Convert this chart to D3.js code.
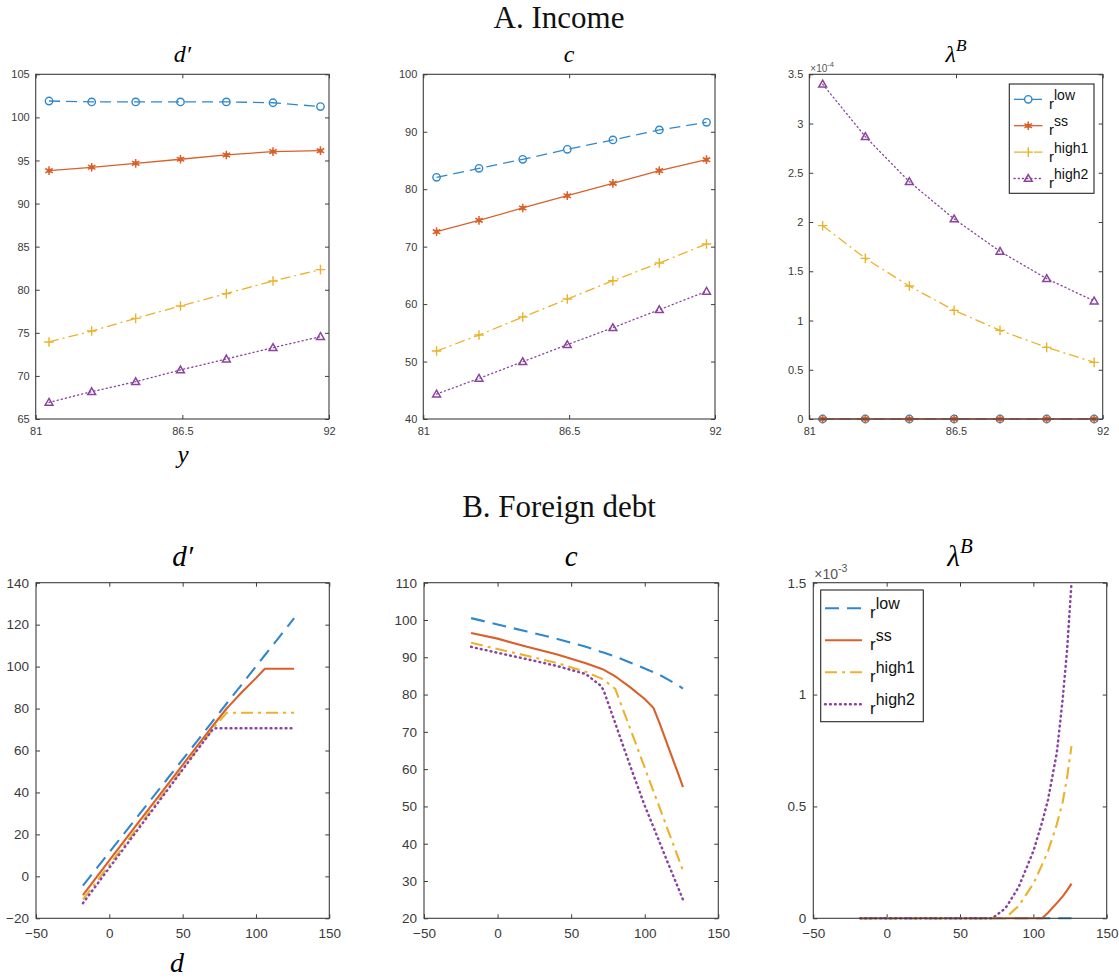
<!DOCTYPE html>
<html>
<head>
<meta charset="utf-8">
<script src="https://cdn.jsdelivr.net/npm/d3@7"></script>
<style>
  body { margin: 0; background: #fff; }
  svg { display: block; }
</style>
</head>
<body>
<svg id="fig" width="1119" height="980"></svg>
<script>
// ---------- Panel A: policy functions over the income grid ----------
const incomeGrid     = [81.5, 83.1, 84.75, 86.43, 88.15, 89.9, 91.68];
const incomeTicks    = [81, 86.5, 92];

const incDebtLow     = [101.9, 101.8, 101.8, 101.8, 101.8, 101.7, 101.25];
const incDebtSS      = [93.82, 94.21, 94.67, 95.14, 95.64, 96.03, 96.14];
const incDebtHigh1   = [73.94, 75.21, 76.68, 78.11, 79.55, 81.02, 82.33];
const incDebtHigh2   = [66.93, 68.17, 69.33, 70.69, 71.96, 73.28, 74.56];

const incConsLow     = [82.07, 83.63, 85.2, 86.94, 88.57, 90.31, 91.64];
const incConsSS      = [72.61, 74.58, 76.73, 78.87, 81.02, 83.23, 85.14];
const incConsHigh1   = [51.83, 54.61, 57.75, 60.88, 64.07, 67.15, 70.46];
const incConsHigh2   = [44.34, 47.07, 49.97, 52.93, 55.89, 59.02, 62.22];

const incLambdaLow   = [0, 0, 0, 0, 0, 0, 0];
const incLambdaSS    = [0, 0, 0, 0, 0, 0, 0];
const incLambdaHigh1 = [1.963e-4, 1.631e-4, 1.35e-4, 1.103e-4, 0.90e-4, 0.727e-4, 0.575e-4];
const incLambdaHigh2 = [3.40e-4, 2.867e-4, 2.41e-4, 2.031e-4, 1.702e-4, 1.425e-4, 1.198e-4];

const incDebtTicks   = [65, 70, 75, 80, 85, 90, 95, 100, 105];
const incConsTicks   = [40, 50, 60, 70, 80, 90, 100];
const incLambdaTicks = [0, 0.5e-4, 1e-4, 1.5e-4, 2e-4, 2.5e-4, 3e-4, 3.5e-4];

// ---------- Panel B: policy functions over the foreign-debt grid ----------
const debtGrid        = [-18, 0, 20, 40, 60, 70, 72, 80, 82, 90, 100, 106, 110, 116, 120, 123, 126];
const debtTicks       = [-50, 0, 50, 100, 150];

const debtNextLow     = [-4.4, 11.5, 29.2, 46.9, 64.6, 73.5, 75.3, 82.4, 84.2, 91.2, 100.1, 105.4, 108.9, 114.2, 117.8, 120.4, 123.1];
const debtNextSS      = [-8.9, 7.6, 25.8, 44.0, 62.2, 71.2, 73.0, 80.0, 81.5, 87.5, 94.5, 99.0, 99.0, 99.0, 99.0, 99.0, 99.0];
const debtNextHigh1   = [-11.0, 5.5, 23.9, 42.2, 60.6, 69.8, 71.6, 78.0, 78.0, 78.0, 78.0, 78.0, 78.0, 78.0, 78.0, 78.0, 78.0];
const debtNextHigh2   = [-12.8, 4.1, 22.8, 41.5, 60.3, 69.6, 70.6, 70.6, 70.6, 70.6, 70.6, 70.6, 70.6, 70.6, 70.6, 70.6, 70.6];

const debtConsLow     = [100.5, 98.8, 96.9, 95.0, 92.8, 91.5, 91.3, 90.2, 89.9, 88.6, 87.0, 86.0, 85.3, 84.0, 83.1, 82.4, 81.6];
const debtConsSS      = [96.5, 95.0, 92.8, 90.8, 88.4, 87.0, 86.7, 84.9, 84.3, 82.0, 78.8, 76.4, 72.4, 66.0, 61.7, 58.5, 55.2];
const debtConsHigh1   = [93.9, 92.2, 90.4, 88.5, 86.1, 84.4, 84.0, 81.5, 79.4, 71.0, 60.4, 54.0, 49.8, 43.4, 39.2, 36.0, 32.8];
const debtConsHigh2   = [92.8, 91.2, 89.5, 87.7, 85.5, 82.4, 81.2, 72.3, 70.0, 61.0, 50.2, 44.4, 40.5, 34.6, 30.8, 27.9, 25.0];

const debtLambdaLow   = [0, 0, 0, 0, 0, 0, 0, 0, 0, 0, 0, 0, 0, 0, 0, 0, 0];
const debtLambdaSS    = [0, 0, 0, 0, 0, 0, 0, 0, 0, 0, 0, 0, 0.025e-3, 0.068e-3, 0.098e-3, 0.125e-3, 0.155e-3];
const debtLambdaHigh1 = [0, 0, 0, 0, 0, 0, 0, 0, 0.008e-3, 0.055e-3, 0.155e-3, 0.24e-3, 0.30e-3, 0.42e-3, 0.52e-3, 0.63e-3, 0.77e-3];
const debtLambdaHigh2 = [0, 0, 0, 0, 0, 0, 0, 0.04e-3, 0.055e-3, 0.14e-3, 0.30e-3, 0.43e-3, 0.53e-3, 0.74e-3, 0.98e-3, 1.2e-3, 1.5e-3];

const debtNextTicks   = [-20, 0, 20, 40, 60, 80, 100, 120, 140];
const debtConsTicks   = [20, 30, 40, 50, 60, 70, 80, 90, 100, 110];
const debtLambdaTicks = [0, 0.5e-3, 1e-3, 1.5e-3];

// Interest-rate regimes (legend order)
const regimeKeys   = ["low", "ss", "high1", "high2"];

// ---------- styling ----------
const styles = {
  low:   { color: "#2f88cc", dashA: "11,6",     dashB: "14,8",        marker: "circle"   },
  ss:    { color: "#d9602a", dashA: null,       dashB: null,          marker: "asterisk" },
  high1: { color: "#ebb22c", dashA: "10,4,2,4", dashB: "12,5,3,5",    marker: "plus"     },
  high2: { color: "#8a44a0", dashA: "1.2,3",    dashB: "0.8,4.2",     marker: "triangle" }
};
const AXIS_COLOR = "#3d3d3d";
const TEXT_COLOR = "#3a3a3a";
const SANS  = "'Liberation Sans', Arial, Helvetica, sans-serif";
const SERIF = "'Liberation Serif', 'Times New Roman', serif";
const TICK_LEN = 4;

const svg = d3.select("#fig");

function markerPath(kind, size) {
  const t = { circle: d3.symbolCircle, asterisk: d3.symbolAsterisk,
              plus: d3.symbolPlus, triangle: d3.symbolTriangle2 }[kind];
  return d3.symbol().type(t).size(size)();
}

function drawMarker(g, kind, color, cx, cy) {
  if (kind === "circle") {
    g.append("circle").attr("cx", cx).attr("cy", cy).attr("r", 3.7)
      .attr("fill", "none").attr("stroke", color).attr("stroke-width", 1.4);
  } else if (kind === "asterisk") {
    g.append("circle").attr("cx", cx).attr("cy", cy).attr("r", 2.2).attr("fill", color);
    g.append("path").attr("d", markerPath("asterisk", 52))
      .attr("transform", `translate(${cx},${cy})`)
      .attr("fill", "none").attr("stroke", color).attr("stroke-width", 1.5);
  } else if (kind === "plus") {
    g.append("path").attr("d", markerPath("plus", 32))
      .attr("transform", `translate(${cx},${cy})`)
      .attr("fill", "none").attr("stroke", color).attr("stroke-width", 1.4);
  } else {
    g.append("path").attr("d", markerPath("triangle", 44))
      .attr("transform", `translate(${cx},${cy + 0.6})`)
      .attr("fill", "none").attr("stroke", color).attr("stroke-width", 1.5)
      .attr("stroke-linejoin", "miter");
  }
}

function styleAxis(sel, fontSize) {
  sel.select(".domain").remove();
  sel.selectAll(".tick line").attr("stroke", AXIS_COLOR).attr("stroke-width", 1);
  sel.selectAll(".tick text").attr("fill", TEXT_COLOR)
    .attr("font-family", SANS).attr("font-size", fontSize);
}

function drawPanel(p) {
  const x = d3.scaleLinear().domain(p.xDomain).range([p.left, p.right]);
  const y = d3.scaleLinear().domain(p.yDomain).range([p.bottom, p.top]);
  const g = svg.append("g");

  g.append("g").attr("transform", `translate(0,${p.bottom})`)
    .call(d3.axisBottom(x).tickValues(p.xTicks).tickFormat(p.xFmt)
      .tickSize(-TICK_LEN).tickPadding(p.xPad))
    .call(s => styleAxis(s, p.tickFont));
  g.append("g").attr("transform", `translate(0,${p.top})`)
    .call(d3.axisTop(x).tickValues(p.xTicks).tickFormat("").tickSize(-TICK_LEN))
    .call(s => styleAxis(s, p.tickFont));
  g.append("g").attr("transform", `translate(${p.left},0)`)
    .call(d3.axisLeft(y).tickValues(p.yTicks).tickFormat(p.yFmt)
      .tickSize(-TICK_LEN).tickPadding(p.yPad))
    .call(s => styleAxis(s, p.tickFont));
  g.append("g").attr("transform", `translate(${p.right},0)`)
    .call(d3.axisRight(y).tickValues(p.yTicks).tickFormat("").tickSize(-TICK_LEN))
    .call(s => styleAxis(s, p.tickFont));

  const line = d3.line().x(d => x(d[0])).y(d => y(d[1]));
  p.series.forEach((vals, i) => {
    const key = regimeKeys[i];
    const st = styles[key];
    const pts = p.grid.map((gx, j) => [gx, vals[j]]);
    const dotted = key === "high2";
    g.append("path").attr("d", line(pts))
      .attr("fill", "none").attr("stroke", st.color)
      .attr("stroke-width", dotted && !p.markers ? p.lineWidth + 0.4 : p.lineWidth)
      .attr("stroke-dasharray", p.dashKey ? st[p.dashKey] : null)
      .attr("stroke-linecap", dotted ? "round" : "butt");
    if (p.markers) {
      const mg = g.append("g");
      pts.forEach(d => drawMarker(mg, st.marker, st.color, x(d[0]), y(d[1])));
    }
  });

  g.append("rect")
    .attr("x", p.left).attr("y", p.top)
    .attr("width", p.right - p.left).attr("height", p.bottom - p.top)
    .attr("fill", "none").attr("stroke", AXIS_COLOR).attr("stroke-width", 1.1);

  // panel title (italic math symbol, optional superscript)
  const cx = (p.left + p.right) / 2;
  const t = svg.append("text").attr("x", cx).attr("y", p.titleY)
    .attr("text-anchor", "middle").attr("font-family", SERIF)
    .attr("font-style", "italic").attr("font-size", p.titleSize)
    .attr("fill", "#000");
  t.append("tspan").text(p.title);
  if (p.titleSup) {
    t.append("tspan").attr("dy", -p.titleSize * 0.42)
      .attr("font-size", p.titleSize * 0.72).text(p.titleSup);
  }

  // axis multiplier shown above the y axis
  if (p.expo) {
    const e = svg.append("text").attr("x", p.left + 1).attr("y", p.expoY)
      .attr("font-family", SANS).attr("font-size", p.expoSize).attr("fill", "#555");
    e.append("tspan").text("×10");
    e.append("tspan").attr("dy", -p.expoSize * 0.5)
      .attr("font-size", p.expoSize * 0.75).text(p.expo);
  }
  return { x, y };
}

function drawLegend(lg) {
  const g = svg.append("g");
  g.append("rect").attr("x", lg.x).attr("y", lg.y).attr("width", lg.w).attr("height", lg.h)
    .attr("fill", "#fff").attr("stroke", "#262626").attr("stroke-width", 1.1);
  const labels = { low: "low", ss: "ss", high1: "high1", high2: "high2" };
  regimeKeys.forEach((k, i) => {
    const st = styles[k];
    const yy = lg.y0 + i * lg.dy;
    const dotted = k === "high2";
    g.append("line").attr("x1", lg.lx1).attr("x2", lg.lx2).attr("y1", yy).attr("y2", yy)
      .attr("stroke", st.color)
      .attr("stroke-width", dotted && !lg.markers ? lg.lineWidth + 0.4 : lg.lineWidth)
      .attr("stroke-dasharray", st[lg.dashKey])
      .attr("stroke-linecap", dotted ? "round" : "butt");
    if (lg.markers) drawMarker(g, st.marker, st.color, (lg.lx1 + lg.lx2) / 2, yy);
    const t = g.append("text").attr("x", lg.tx).attr("y", yy + lg.rOff)
      .attr("font-family", SANS).attr("font-size", lg.fontSize).attr("fill", "#111");
    t.append("tspan").text("r");
    t.append("tspan").attr("dy", -lg.supRise).attr("font-size", lg.supSize).text(labels[k]);
  });
}

const fmtPlain = d3.format("~g");
const fmtScaled = s => v => fmtPlain(Math.round(v / s * 100) / 100);

// ---------- section headings ----------
svg.append("text").attr("x", 559).attr("y", 28).attr("text-anchor", "middle")
  .attr("font-family", SERIF).attr("font-size", 31).attr("fill", "#111").text("A. Income");
svg.append("text").attr("x", 559).attr("y", 517).attr("text-anchor", "middle")
  .attr("font-family", SERIF).attr("font-size", 31).attr("fill", "#111").text("B. Foreign debt");

// ---------- Panel A ----------
const topBase = { top: 74.3, bottom: 419, grid: incomeGrid, xDomain: [81, 92], xTicks: incomeTicks,
  xFmt: fmtPlain, tickFont: 11, xPad: 8.5, yPad: 6, lineWidth: 1.3, dashKey: "dashA",
  markers: true, titleY: 61.5, titleSize: 24 };

drawPanel(Object.assign({}, topBase, { left: 35.7, right: 329, yDomain: [65, 105], yTicks: incDebtTicks,
  yFmt: fmtPlain, title: "d′", series: [incDebtLow, incDebtSS, incDebtHigh1, incDebtHigh2] }));
drawPanel(Object.assign({}, topBase, { left: 423.3, right: 715, yDomain: [40, 100], yTicks: incConsTicks,
  yFmt: fmtPlain, title: "c", series: [incConsLow, incConsSS, incConsHigh1, incConsHigh2] }));
drawPanel(Object.assign({}, topBase, { left: 809.3, right: 1102.7, yDomain: [0, 3.5e-4], yTicks: incLambdaTicks,
  yFmt: fmtScaled(1e-4), title: "λ", titleSup: "B", expo: "-4", expoY: 71.5, expoSize: 10,
  series: [incLambdaLow, incLambdaSS, incLambdaHigh1, incLambdaHigh2] }));

svg.append("text").attr("x", 183).attr("y", 463).attr("text-anchor", "middle")
  .attr("font-family", SERIF).attr("font-style", "italic").attr("font-size", 25).text("y");

drawLegend({ x: 1009.3, y: 84, w: 84.7, h: 109.3, y0: 99.3, dy: 26.4, lx1: 1014, lx2: 1042.5,
  tx: 1049, rOff: 9.5, fontSize: 15, supSize: 14, supRise: 9, lineWidth: 1.3, dashKey: "dashA", markers: true });

// ---------- Panel B ----------
const botBase = { top: 582.7, bottom: 918.3, grid: debtGrid, xDomain: [-50, 150], xTicks: debtTicks,
  xFmt: fmtPlain, tickFont: 13.5, xPad: 10.5, yPad: 7, lineWidth: 2.1, dashKey: "dashB",
  markers: false, titleY: 565.5, titleSize: 29 };

drawPanel(Object.assign({}, botBase, { left: 36, right: 329.3, yDomain: [-20, 140], yTicks: debtNextTicks,
  yFmt: fmtPlain, title: "d′", series: [debtNextLow, debtNextSS, debtNextHigh1, debtNextHigh2] }));
drawPanel(Object.assign({}, botBase, { left: 424, right: 718.3, yDomain: [20, 110], yTicks: debtConsTicks,
  yFmt: fmtPlain, title: "c", series: [debtConsLow, debtConsSS, debtConsHigh1, debtConsHigh2] }));
drawPanel(Object.assign({}, botBase, { left: 813.3, right: 1106.7, yDomain: [0, 1.5e-3], yTicks: debtLambdaTicks,
  yFmt: fmtScaled(1e-3), title: "λ", titleSup: "B", expo: "-3", expoY: 579, expoSize: 14,
  series: [debtLambdaLow, debtLambdaSS, debtLambdaHigh1, debtLambdaHigh2] }));

svg.append("text").attr("x", 177).attr("y", 972).attr("text-anchor", "middle")
  .attr("font-family", SERIF).attr("font-style", "italic").attr("font-size", 28).text("d");

drawLegend({ x: 820.7, y: 590, w: 102.6, h: 131.7, y0: 608.3, dy: 32, lx1: 825, lx2: 862,
  tx: 870, rOff: 10, fontSize: 17, supSize: 16, supRise: 9.5, lineWidth: 2.1, dashKey: "dashB", markers: false });
</script>
</body>
</html>
